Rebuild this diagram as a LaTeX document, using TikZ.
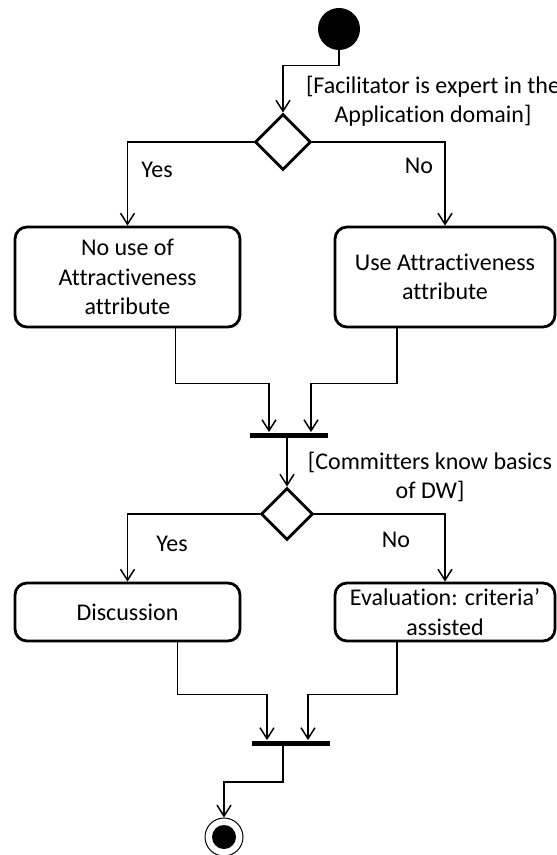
\documentclass[tikz,border=0pt]{standalone}
\usepackage{fontspec}
\setmainfont{Carlito}[Ligatures=NoCommon]
\usetikzlibrary{positioning,shapes.geometric,arrows.meta}

\begin{document}
\begin{tikzpicture}[x=0.5pt,y=-0.5pt,>={Straight Barb[length=5.5pt,width=7pt]},
    act/.style={draw,rounded corners=6pt,line width=1.4pt,align=center,inner sep=0pt,font=\fontsize{12}{14.75}\selectfont},
    dec/.style={draw,diamond,line width=1.4pt,inner sep=0pt,minimum size=28pt},
    bar/.style={fill,inner sep=0pt,minimum width=39pt,minimum height=2.5pt},
    flow/.style={->,line width=0.75pt},
    lbl/.style={align=center,font=\fontsize{12}{14.5}\selectfont}]
        \useasboundingbox (0,0) rectangle (556,855);
        \node[circle,fill,inner sep=0pt,minimum size=21pt] (start) at (339,29) {};
        \node[dec] (dec1) at (283,142) {};
        \node[lbl] (guard1) at (433,101) {[Facilitator is expert in the\\Application domain]};
        \node[act,minimum width=112.5pt,minimum height=50pt] (noattr) at (127.5,277) {No use of\\Attractiveness\\attribute};
        \node[act,minimum width=110pt,minimum height=50pt] (useattr) at (445,277) {Use Attractiveness\\attribute};
        \node[lbl] (yes1) at (157,170) {Yes};
        \node[lbl] (no1) at (419,166) {No};
        \node[bar] (bar1) at (289,435) {};
        \node[dec,minimum size=26pt] (dec2) at (287,514) {};
        \node[lbl] (guard2) at (430,477) {[Committers know basics\\of DW]};
        \node[act,minimum width=112.5pt,minimum height=29pt] (disc) at (127.5,612) {Discussion};
        \node[act,minimum width=110pt,minimum height=29pt] (eval) at (445,612) {Evaluation: criteria’\\assisted};
        \node[lbl] (yes2) at (172,544) {Yes};
        \node[lbl] (no2) at (396,540) {No};
        \node[bar] (bar2) at (291,743) {};
        \node[circle,draw,line width=0.5pt,inner sep=0pt,minimum size=19pt] (end) at (224,837) {};
        \fill (end.center) circle (12);
        % flows
        \draw[flow] (start.south) -- ++(0,15) -| (dec1.north);
        \draw[flow] (dec1.west) -| (noattr.north);
        \draw[flow] (dec1.east) -| (useattr.north);
        \draw[flow] ([xshift=24pt]noattr.south) -- ++(0,55) -| ([xshift=-10pt]bar1.north);
        \draw[flow] ([xshift=-24pt]useattr.south) -- ++(0,55) -| ([xshift=11pt]bar1.north);
        \draw[flow] (bar1.south -| dec2.north) -- (dec2.north);
        \draw[flow] (dec2.west) -| (disc.north);
        \draw[flow] (dec2.east) -| (eval.north);
        \draw[flow] ([xshift=25pt]disc.south) -- ++(0,52) -| ([xshift=-12pt]bar2.north);
        \draw[flow] ([xshift=-24pt]eval.south) -- ++(0,52) -| ([xshift=8.5pt]bar2.north);
        \draw[flow] ([xshift=-4pt]bar2.south) -- ++(0,36) -| (end.north);
    \end{tikzpicture}
\end{document}
